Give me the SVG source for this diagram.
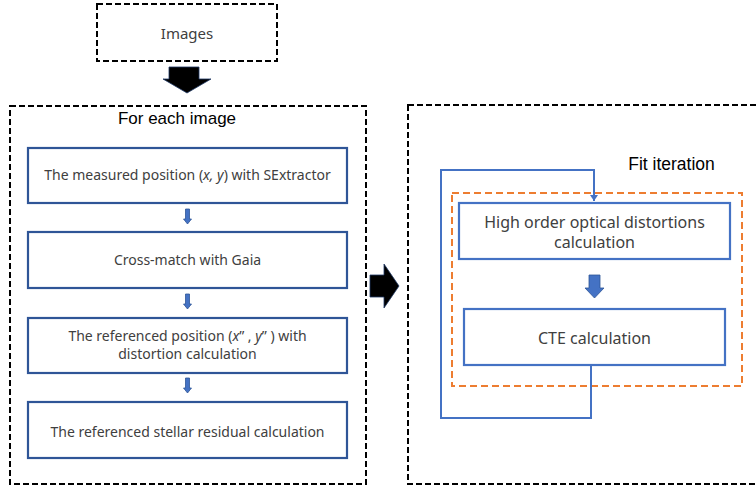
<svg xmlns="http://www.w3.org/2000/svg" width="756" height="492" viewBox="0 0 756 492">
<style>
.bg{fill:#ffffff}
.dash{fill:none;stroke:#000;stroke-width:2;stroke-dasharray:6 3}
.odash{fill:none;stroke:#ED7D31;stroke-width:2;stroke-dasharray:7 4}
.lbox{fill:#fff;stroke:#2F5597;stroke-width:2.2}
.rbox{fill:#fff;stroke:#4472C4;stroke-width:2.2}
.t{font-family:"Noto Sans","Liberation Sans",Arial,sans-serif;font-size:14px;fill:#404040;text-anchor:middle}
.rt{font-size:16px}
.h{font-family:"Liberation Sans","Noto Sans",Arial,sans-serif;fill:#000;text-anchor:middle}
.small{fill:#4472C4;stroke:#2F5597;stroke-width:0.8}
.loop{fill:none;stroke:#4472C4;stroke-width:2}
</style>
<defs>
<marker id="ah" markerWidth="8" markerHeight="8" refX="6" refY="4" orient="auto" markerUnits="userSpaceOnUse">
<path d="M0,0 L6,4 L0,8 Z" fill="#4472C4"/>
</marker>
</defs>
<rect class="bg" x="0" y="0" width="756" height="492"/>

<g id="images">
<rect class="dash" x="97" y="4" width="180" height="57"/>
<text class="t" x="187" y="39" style="font-size:15px">Images</text>
</g>

<g id="for-each-image">
<rect class="dash" x="10" y="106" width="356" height="378"/>
<text class="h" x="177" y="124" style="font-size:17px">For each image</text>
</g>

<g id="measured">
<rect class="lbox" x="28" y="148" width="319" height="55"/>
<text class="t" x="187.5" y="180">The measured position (<tspan font-style="italic">x, y</tspan>) with SExtractor</text>
</g>

<g id="crossmatch">
<rect class="lbox" x="28" y="232" width="319" height="56"/>
<text class="t" x="187.5" y="265">Cross-match with Gaia</text>
</g>

<g id="referenced-position">
<rect class="lbox" x="28" y="318" width="319" height="55"/>
<text class="t" x="187.5" y="341">The referenced position (<tspan font-style="italic">x</tspan>” , <tspan font-style="italic">y</tspan>” ) with</text>
<text class="t" x="187.5" y="359">distortion calculation</text>
</g>

<g id="residual">
<rect class="lbox" x="28" y="402" width="319" height="56"/>
<text class="t" x="187.5" y="437">The referenced stellar residual calculation</text>
</g>

<g id="fit-panel">
<rect class="dash" x="408" y="105" width="362" height="379"/>
<text class="h" x="671.5" y="170" style="font-size:17.5px">Fit iteration</text>
<rect class="odash" x="452" y="193" width="290" height="193"/>
</g>

<g id="high-order">
<rect class="rbox" x="459" y="203" width="271" height="56"/>
<text class="t rt" x="594.5" y="228">High order optical distortions</text>
<text class="t rt" x="594.5" y="248">calculation</text>
</g>

<g id="cte">
<rect class="rbox" x="464" y="309" width="261" height="56"/>
<text class="t rt" x="594.5" y="344">CTE calculation</text>
</g>

<g id="connectors">
<path d="M169,67 H199 V79 H211 L187,93 L163,79 H169 Z" fill="#000" stroke="#1F3864" stroke-width="0.8"/>
<path d="M370,275 H384 V264 L399,286 L384,308 V297 H370 Z" fill="#000" stroke="#1F3864" stroke-width="0.8"/>
<path class="small" d="M185.5,209 H189.5 V219 H191.5 L187.5,224 L183.5,219 H185.5 Z"/>
<path class="small" d="M185.5,294 H189.5 V304 H191.5 L187.5,309 L183.5,304 H185.5 Z"/>
<path class="small" d="M185.5,378 H189.5 V388 H191.5 L187.5,393 L183.5,388 H185.5 Z"/>
<path d="M589,275 H600 V288 H604 L594.5,298 L585,288 H589 Z" fill="#4472C4" stroke="#2F5597" stroke-width="0.8"/>
<path class="loop" d="M591,365 V418 H441 V170 H594 V201" marker-end="url(#ah)"/>
</g>
</svg>
